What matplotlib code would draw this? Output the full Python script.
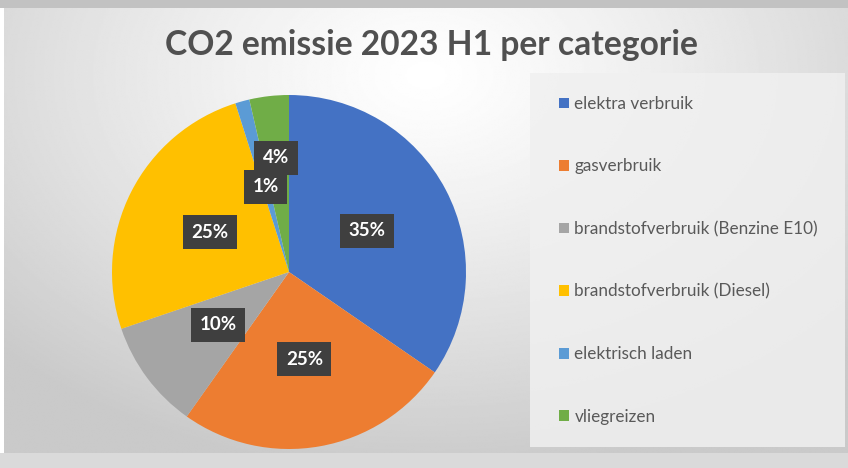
import matplotlib
matplotlib.use("Agg")
import matplotlib.pyplot as plt
import numpy as np
from matplotlib.patches import Rectangle

categories = ["elektra verbruik", "gasverbruik", "brandstofverbruik (Benzine E10)",
              "brandstofverbruik (Diesel)", "elektrisch laden", "vliegreizen"]
shares = [34.6, 25.2, 10.0, 25.3, 1.3, 3.6]
colors = ["#4472C4", "#ED7D31", "#A5A5A5", "#FFC000", "#5B9BD5", "#70AD47"]
title = "CO2 emissie 2023 H1 per categorie"

plt.rcParams['font.family'] = ['Lato', 'DejaVu Sans']

W, H = 848, 468
fig = plt.figure(figsize=(W / 100, H / 100), dpi=100, facecolor="white")

# outer strips around the chart area
fig.patches.append(Rectangle((0, 1 - 8 / H), 1, 8 / H, transform=fig.transFigure,
                             fc="#c2c2c2", ec="none", zorder=-5))
fig.patches.append(Rectangle((0, 0), 1, 15 / H, transform=fig.transFigure,
                             fc="#dadada", ec="none", zorder=-5))

# chart area with radial gradient
bg = fig.add_axes([4 / W, 15 / H, 844 / W, 445 / H], zorder=-1)
yy, xx = np.mgrid[0:1:300j, 0:1:500j]
d = np.sqrt(((xx - 0.5) / 0.7) ** 2 + ((yy - 0.15) / 0.9) ** 2)
d = np.clip(d, 0, 1)
img = 1.0 - 0.21 * d ** 1.2
bg.imshow(img, cmap="gray", vmin=0, vmax=1, aspect="auto", extent=[0, 1, 0, 1],
          origin="upper", interpolation="bilinear")
bg.axis("off")

fig.text(431 / W, 1 - 45 / H, title, ha="center", va="center", fontsize=24.2,
         fontweight="bold", color="#505050")

# pie
cx, cy, r = 289, 272, 177
ax = fig.add_axes([(cx - r) / W, (H - cy - r) / H, 2 * r / W, 2 * r / H])
wedges, texts, autotexts = ax.pie(shares, colors=colors, startangle=90, counterclock=False,
                                  radius=1, autopct="%.0f%%", pctdistance=0.5,
                                  wedgeprops=dict(linewidth=0))
ax.set_xlim(-1, 1)
ax.set_ylim(-1, 1)
ax.set_aspect("equal")
ax.axis("off")

# smallest slice label pushed outward like Excel's best fit
mid = np.deg2rad(90 - 360 * (sum(shares[:5]) + shares[5] / 2) / 100)
autotexts[5].set_position((0.65 * np.cos(mid), 0.65 * np.sin(mid)))
for t in autotexts:
    t.set_color("white")
    t.set_fontsize(13.5)
    t.set_fontweight("bold")
    t.set_bbox(dict(boxstyle="square,pad=0.45", fc="#3f3f3f", ec="none"))

# legend panel
fig.patches.append(Rectangle((530 / W, 1 - 447 / H), 315 / W, 374 / H,
                             transform=fig.transFigure, fc="#f0f0f0", ec="none",
                             alpha=0.85, zorder=0))
leg = fig.legend(wedges, categories, loc="upper left",
                 bbox_to_anchor=(559 / W, 1 - 96 / H), frameon=False,
                 fontsize=12.3, labelcolor="#595959", handlelength=0.6,
                 handleheight=0.6, handletextpad=0.3, labelspacing=2.72,
                 borderaxespad=0, borderpad=0)

fig.savefig("out.png", dpi=100, facecolor=fig.get_facecolor())
